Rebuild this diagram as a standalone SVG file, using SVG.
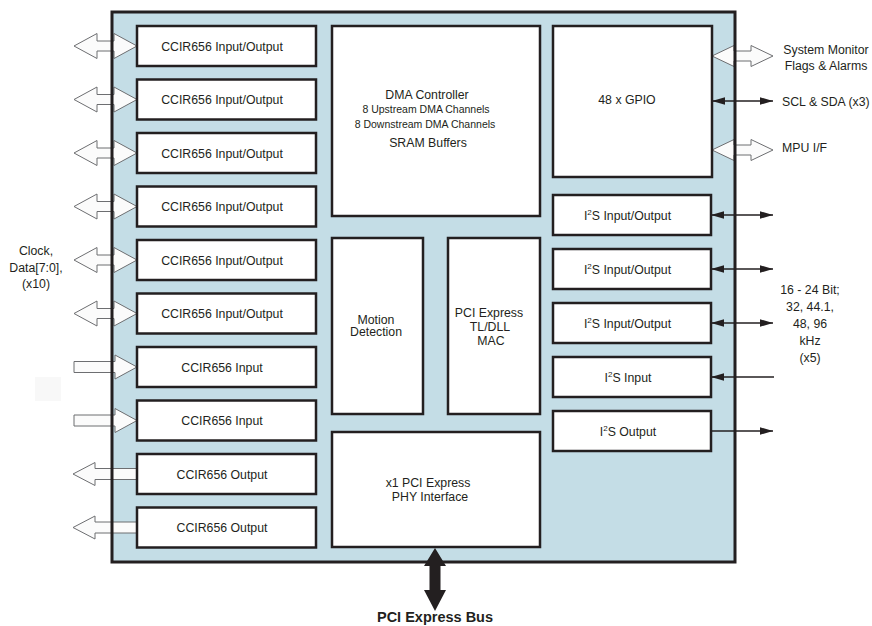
<svg xmlns="http://www.w3.org/2000/svg" xmlns:xlink="http://www.w3.org/1999/xlink" width="872" height="626" viewBox="0 0 872 626">
<style>
text{font-family:"Liberation Sans",Arial,sans-serif;fill:#231f20}
.bx{fill:#fff;stroke:#231f20;stroke-width:2.5}
.t{font-size:12.3px;text-anchor:middle}
.s{font-size:10.5px;text-anchor:middle}
.lbl{font-size:12.3px}
.ha{fill:#fbfbfb;stroke:#6d6e71;stroke-width:1}
.ln{stroke:#231f20;stroke-width:1.3;fill:none}
</style>
<defs>
<path id="bi" d="M74,0 L97,-12.5 L97,-5 L114,-5 L114,-12.5 L137,0 L114,12.5 L114,5 L97,5 L97,12.5 Z"/>
<path id="in" d="M74,-5.5 L115,-5.5 L115,-12 L137,0 L115,12 L115,5.5 L74,5.5 Z"/>
<path id="out" d="M73,0 L95,-11.5 L95,-5.5 L137,-5.5 L137,5.5 L95,5.5 L95,11.5 Z"/>
<path id="rbi" d="M712,0 L734,-10.5 L734,-5 L751,-5 L751,-10.5 L773,0 L751,10.5 L751,5 L734,5 L734,10.5 Z"/>
<marker id="ah" markerUnits="userSpaceOnUse" viewBox="0 0 14 10" markerWidth="14" markerHeight="10" refX="13" refY="5" orient="auto-start-reverse">
<path d="M0,1.3 L13,5 L0,8.7 Z" fill="#231f20"/>
</marker>
</defs>
<rect x="35" y="377" width="26" height="24" fill="#f8f8f8"/>
<rect id="chip-bg" x="112" y="12" width="623" height="550" fill="#c4dde6"/>
<g id="connectors">
<use xlink:href="#bi" class="ha" transform="translate(0,46)"/>
<use xlink:href="#bi" class="ha" transform="translate(0,99.5)"/>
<use xlink:href="#bi" class="ha" transform="translate(0,153)"/>
<use xlink:href="#bi" class="ha" transform="translate(0,206.5)"/>
<use xlink:href="#bi" class="ha" transform="translate(0,260)"/>
<use xlink:href="#bi" class="ha" transform="translate(0,313.5)"/>
<use xlink:href="#in" class="ha" transform="translate(0,367)"/>
<use xlink:href="#in" class="ha" transform="translate(0,420.5)"/>
<use xlink:href="#out" class="ha" transform="translate(0,474)"/>
<use xlink:href="#out" class="ha" transform="translate(0,527.5)"/>
<use xlink:href="#rbi" class="ha" transform="translate(0,56)"/>
<use xlink:href="#rbi" class="ha" transform="translate(0,150)"/>
<line class="ln" x1="712" y1="101" x2="773" y2="101" marker-start="url(#ah)" marker-end="url(#ah)"/>
<line class="ln" x1="711" y1="215" x2="773" y2="215" marker-start="url(#ah)" marker-end="url(#ah)"/>
<line class="ln" x1="711" y1="269" x2="773" y2="269" marker-start="url(#ah)" marker-end="url(#ah)"/>
<line class="ln" x1="711" y1="323" x2="773" y2="323" marker-start="url(#ah)" marker-end="url(#ah)"/>
<line class="ln" x1="774" y1="377" x2="711" y2="377" marker-end="url(#ah)"/>
<line class="ln" x1="711" y1="431" x2="773" y2="431" marker-end="url(#ah)"/>
</g>
<rect id="chip" x="112" y="12" width="623" height="550" fill="none" stroke="#231f20" stroke-width="3"/>
<g id="pcie-bus-arrow">
<path d="M435,548 L446,566 L440.5,566 L440.5,590 L446,590 L435,611 L424,590 L429.5,590 L429.5,566 L424,566 Z" fill="#231f20"/>
</g>
<g id="ccir1"><rect class="bx" x="137" y="26" width="179" height="40"/><text class="t" x="222" y="50.5">CCIR656 Input/Output</text></g>
<g id="ccir2"><rect class="bx" x="137" y="79.5" width="179" height="40"/><text class="t" x="222" y="104">CCIR656 Input/Output</text></g>
<g id="ccir3"><rect class="bx" x="137" y="133" width="179" height="40"/><text class="t" x="222" y="157.5">CCIR656 Input/Output</text></g>
<g id="ccir4"><rect class="bx" x="137" y="186.5" width="179" height="40"/><text class="t" x="222" y="211">CCIR656 Input/Output</text></g>
<g id="ccir5"><rect class="bx" x="137" y="240" width="179" height="40"/><text class="t" x="222" y="264.5">CCIR656 Input/Output</text></g>
<g id="ccir6"><rect class="bx" x="137" y="293.5" width="179" height="40"/><text class="t" x="222" y="318">CCIR656 Input/Output</text></g>
<g id="ccir7"><rect class="bx" x="137" y="347" width="179" height="40"/><text class="t" x="222" y="371.5">CCIR656 Input</text></g>
<g id="ccir8"><rect class="bx" x="137" y="400.5" width="179" height="40"/><text class="t" x="222" y="425">CCIR656 Input</text></g>
<g id="ccir9"><rect class="bx" x="137" y="454" width="179" height="40"/><text class="t" x="222" y="478.5">CCIR656 Output</text></g>
<g id="ccir10"><rect class="bx" x="137" y="507.5" width="179" height="40"/><text class="t" x="222" y="532">CCIR656 Output</text></g>
<g id="dma"><rect class="bx" x="332" y="26" width="208" height="190"/>
<text class="t" x="427" y="99">DMA Controller</text>
<text class="s" x="426" y="113">8 Upstream DMA Channels</text>
<text class="s" x="425" y="127.5">8 Downstream DMA Channels</text>
<text class="t" x="428" y="146.5">SRAM Buffers</text></g>
<g id="gpio"><rect class="bx" x="553" y="26" width="159" height="151"/><text class="t" x="627" y="104">48 x GPIO</text></g>
<g id="motion"><rect class="bx" x="332" y="238" width="91" height="176"/>
<text class="t" x="376" y="323.5">Motion</text><text class="t" x="376" y="336">Detection</text></g>
<g id="pcie-mac"><rect class="bx" x="448" y="238" width="92" height="176"/>
<text class="t" x="489" y="317">PCI Express</text><text class="t" x="490" y="331">TL/DLL</text><text class="t" x="491" y="345">MAC</text></g>
<g id="pcie-phy"><rect class="bx" x="332" y="432" width="208" height="115"/>
<text class="t" x="428" y="486.5">x1 PCI Express</text><text class="t" x="430" y="500.5">PHY Interface</text></g>
<g id="i2s1"><rect class="bx" x="553" y="195" width="158" height="40"/><text class="t" x="627.5" y="219.5">I<tspan font-size="8" dy="-5">2</tspan><tspan dy="5">S Input/Output</tspan></text></g>
<g id="i2s2"><rect class="bx" x="553" y="249" width="158" height="40"/><text class="t" x="627.5" y="273.5">I<tspan font-size="8" dy="-5">2</tspan><tspan dy="5">S Input/Output</tspan></text></g>
<g id="i2s3"><rect class="bx" x="553" y="303" width="158" height="40"/><text class="t" x="627.5" y="327.5">I<tspan font-size="8" dy="-5">2</tspan><tspan dy="5">S Input/Output</tspan></text></g>
<g id="i2s4"><rect class="bx" x="553" y="357" width="158" height="40"/><text class="t" x="628" y="381.5">I<tspan font-size="8" dy="-5">2</tspan><tspan dy="5">S Input</tspan></text></g>
<g id="i2s5"><rect class="bx" x="553" y="411" width="158" height="40"/><text class="t" x="628" y="435.5">I<tspan font-size="8" dy="-5">2</tspan><tspan dy="5">S Output</tspan></text></g>
<g id="labels">
<text class="lbl" x="826" y="54" text-anchor="middle">System Monitor</text>
<text class="lbl" x="826" y="69.5" text-anchor="middle">Flags &amp; Alarms</text>
<text class="lbl" x="782" y="105.5">SCL &amp; SDA (x3)</text>
<text class="lbl" x="782" y="152">MPU I/F</text>
<text class="lbl" x="810" y="294" text-anchor="middle">16 - 24 Bit;</text>
<text class="lbl" x="810" y="311" text-anchor="middle">32, 44.1,</text>
<text class="lbl" x="810" y="328" text-anchor="middle">48, 96</text>
<text class="lbl" x="810" y="345" text-anchor="middle">kHz</text>
<text class="lbl" x="810" y="362" text-anchor="middle">(x5)</text>
<text class="lbl" x="36" y="255" text-anchor="middle">Clock,</text>
<text class="lbl" x="36" y="271.5" text-anchor="middle">Data[7:0],</text>
<text class="lbl" x="36" y="288" text-anchor="middle">(x10)</text>
<text x="435" y="622" text-anchor="middle" font-size="14.5" font-weight="bold">PCI Express Bus</text>
</g>
</svg>
